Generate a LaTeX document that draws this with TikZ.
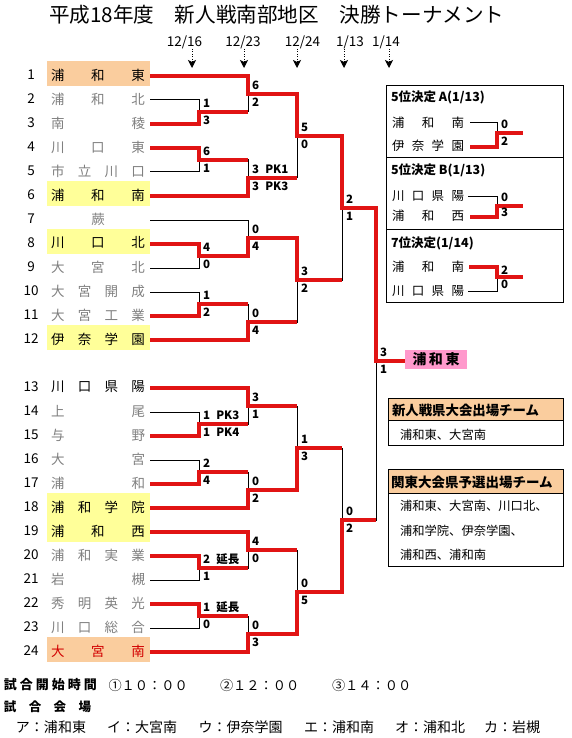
\documentclass[tikz,border=0pt]{standalone}
\usepackage{fontspec}
\setmainfont{Noto Sans CJK JP}
\usetikzlibrary{arrows.meta}
\definecolor{peach}{RGB}{250,205,158}
\definecolor{lyellow}{RGB}{255,255,153}
\definecolor{lpink}{RGB}{255,153,204}
\definecolor{tgray}{RGB}{128,128,128}
\definecolor{wred}{RGB}{225,20,20}
\definecolor{dred}{RGB}{210,0,0}
\newcommand{\fs}[1]{\fontsize{#1}{#1}\selectfont}
\newcommand{\spr}[2]{\hbox to #1pt{#2}}
\begin{document}
\begin{tikzpicture}[x=1pt,y=-1pt,
  every node/.style={inner sep=0pt,outer sep=0pt},
  num/.style={font=\fs{13.5}},
  tn/.style={font=\fs{13.5}},
  tgr/.style={tn,text=tgray},
  sc/.style={anchor=west,font=\bfseries\fs{11.5}},
  blk/.style={draw=black,line width=1pt},
  win/.style={draw=wred,line width=3.3pt},
  datel/.style={font=\fs{13.5}},
  darr/.style={draw=black,line width=1pt,dash pattern=on 1pt off 1.5pt,-{Stealth[length=8pt,width=8pt,inset=2pt]}},
  sbox/.style={draw=black,line width=0.8pt},
  btitle/.style={anchor=west,font=\bfseries\fs{12.5}},
  bname/.style={font=\fs{12.5}},
  btext/.style={anchor=west,font=\fs{12.3}},
  foot/.style={anchor=west,font=\fs{13.2}},
]
\useasboundingbox (0,0) rectangle (571,738);
\fill[white] (0,0) rectangle (571,738);

% title
\node[font=\fs{20.6},anchor=west] (title) at (49,15) {平成18年度　新人戦南部地区　決勝トーナメント};

% dates and arrows
\node[datel] (d1) at (184.5,42.5) {12/16};
\node[datel] (d2) at (243,42.5) {12/23};
\node[datel] (d3) at (302.5,42.5) {12/24};
\node[datel] (d4) at (350,42.5) {1/13};
\node[datel] (d5) at (386,42.5) {1/14};
\foreach \i/\x in {1/192,2/244,3/297,4/344,5/389} {
  \coordinate (u\i) at (\x,49);
  \coordinate (v\i) at (\x,68);
  \draw[darr] (u\i) -- (v\i);
}

% highlight boxes
\fill[peach] (47,61) rectangle (150,86);
\fill[lyellow] (47,181) rectangle (150,206);
\fill[lyellow] (47,229) rectangle (150,254);
\fill[lyellow] (47,325) rectangle (150,350);
\fill[lyellow] (47,493) rectangle (150,518);
\fill[lyellow] (47,517) rectangle (150,542);
\fill[peach] (47,637) rectangle (150,662);

% row numbers
\foreach \i/\y in {1/75,2/99,3/123,4/147,5/171,6/195,7/219,8/243,9/267,10/291,11/315,12/339,
  13/387,14/411,15/435,16/459,17/483,18/507,19/531,20/555,21/579,22/603,23/627,24/651}
  \node[num] (k\i) at (31,\y) {\i};

% team names
\node[tn]  (n1)  at (98,75)  {\spr{94}{浦\hfill 和\hfill 東}};
\node[tgr] (n2)  at (98,99)  {\spr{94}{浦\hfill 和\hfill 北}};
\node[tgr] (n3)  at (98,123) {\spr{94}{南\hfill 稜}};
\node[tgr] (n4)  at (98,147) {\spr{94}{川\hfill 口\hfill 東}};
\node[tgr] (n5)  at (98,171) {\spr{94}{市\hfill 立\hfill 川\hfill 口}};
\node[tn]  (n6)  at (98,195) {\spr{94}{浦\hfill 和\hfill 南}};
\node[tgr] (n7)  at (98,219) {\spr{94}{\hfill 蕨\hfill}};
\node[tn]  (n8)  at (98,243) {\spr{94}{川\hfill 口\hfill 北}};
\node[tgr] (n9)  at (98,267) {\spr{94}{大\hfill 宮\hfill 北}};
\node[tgr] (n10) at (98,291) {\spr{94}{大\hfill 宮\hfill 開\hfill 成}};
\node[tgr] (n11) at (98,315) {\spr{94}{大\hfill 宮\hfill 工\hfill 業}};
\node[tn]  (n12) at (98,339) {\spr{94}{伊\hfill 奈\hfill 学\hfill 園}};
\node[tn]  (n13) at (98,387) {\spr{94}{川\hfill 口\hfill 県\hfill 陽}};
\node[tgr] (n14) at (98,411) {\spr{94}{上\hfill 尾}};
\node[tgr] (n15) at (98,435) {\spr{94}{与\hfill 野}};
\node[tgr] (n16) at (98,459) {\spr{94}{大\hfill 宮}};
\node[tgr] (n17) at (98,483) {\spr{94}{浦\hfill 和}};
\node[tn]  (n18) at (98,507) {\spr{94}{浦\hfill 和\hfill 学\hfill 院}};
\node[tn]  (n19) at (98,531) {\spr{94}{浦\hfill 和\hfill 西}};
\node[tgr] (n20) at (98,555) {\spr{94}{浦\hfill 和\hfill 実\hfill 業}};
\node[tgr] (n21) at (98,579) {\spr{94}{岩\hfill 槻}};
\node[tgr] (n22) at (98,603) {\spr{94}{秀\hfill 明\hfill 英\hfill 光}};
\node[tgr] (n23) at (98,627) {\spr{94}{川\hfill 口\hfill 総\hfill 合}};
\node[tn,text=dred] (n24) at (98,651) {\spr{94}{大\hfill 宮\hfill 南}};

% team line starts
\foreach \i/\y in {1/76,2/100,3/124,4/148,5/172,6/196,7/220,8/244,9/268,10/292,11/316,12/340,
  13/388,14/412,15/436,16/460,17/484,18/508,19/532,20/556,21/580,22/604,23/628,24/652}
  \coordinate (t\i) at (150,\y);

% match points
\coordinate (mA) at (199,112);
\coordinate (mB) at (199,160);
\coordinate (mC) at (248,94);
\coordinate (mD) at (248,178);
\coordinate (mE) at (297,136);
\coordinate (mF) at (199,256);
\coordinate (mG) at (248,238);
\coordinate (mH) at (199,304);
\coordinate (mI) at (248,322);
\coordinate (mJ) at (297,280);
\coordinate (mK) at (342,208);
\coordinate (mL) at (199,424);
\coordinate (mM) at (248,406);
\coordinate (mN) at (199,472);
\coordinate (mO) at (248,490);
\coordinate (mP) at (297,448);
\coordinate (mQ) at (199,568);
\coordinate (mR) at (248,550);
\coordinate (mS) at (199,616);
\coordinate (mT) at (248,634);
\coordinate (mU) at (297,592);
\coordinate (mV) at (342,520);
\coordinate (mW) at (376,361);

% champion box
\fill[lpink] (405,350) rectangle (467,369);
\node[font=\bfseries\fs{14}] (champ) at (436,359.5) {\spr{47}{浦\hfill 和\hfill 東}};
\coordinate (cw) at (405,361);

% losing (black) lines
\draw[blk] (t2) -| (mA);
\draw[blk] (t5) -| (mB);
\draw[blk] (mA) -| (mC);
\draw[blk] (mB) -| (mD);
\draw[blk] (mD) -| (mE);
\draw[blk] (t9) -| (mF);
\draw[blk] (t7) -| (mG);
\draw[blk] (t10) -| (mH);
\draw[blk] (mH) -| (mI);
\draw[blk] (mI) -| (mJ);
\draw[blk] (mJ) -| (mK);
\draw[blk] (t14) -| (mL);
\draw[blk] (mL) -| (mM);
\draw[blk] (t16) -| (mN);
\draw[blk] (mN) -| (mO);
\draw[blk] (mM) -| (mP);
\draw[blk] (t21) -| (mQ);
\draw[blk] (mQ) -| (mR);
\draw[blk] (t23) -| (mS);
\draw[blk] (mS) -| (mT);
\draw[blk] (mR) -| (mU);
\draw[blk] (mP) -| (mV);
\draw[blk] (mV) -| (mW);

% winning (red) lines
\draw[win] (t1) -| (mC) -| (mE) -| (mK) -| (mW) -- (cw);
\draw[win] (t3) -| (mA) -- (mA -| mC);
\draw[win] (t4) -| (mB) -- (mB -| mD);
\draw[win] (t6) -| (mD) -- (mD -| mE);
\draw[win] (t8) -| (mF) -| (mG) -| (mJ) -- (mJ -| mK);
\draw[win] (t11) -| (mH) -- (mH -| mI);
\draw[win] (t12) -| (mI) -- (mI -| mJ);
\draw[win] (t13) -| (mM) -- (mM -| mP);
\draw[win] (t15) -| (mL) -- (mL -| mM);
\draw[win] (t17) -| (mN) -- (mN -| mO);
\draw[win] (t18) -| (mO) -| (mP) -- (mP -| mV);
\draw[win] (t19) -| (mR) -- (mR -| mU);
\draw[win] (t20) -| (mQ) -- (mQ -| mR);
\draw[win] (t22) -| (mS) -- (mS -| mT);
\draw[win] (t24) -| (mT) -| (mU) -| (mV) -- (mV -| mW);

% scores
\node[sc] (sA1) at (203,103.5) {1};  \node[sc] (sA2) at (203,120) {3};
\node[sc] (sB1) at (203,151.5) {6};  \node[sc] (sB2) at (203,168) {1};
\node[sc] (sC1) at (252,85.5) {6};   \node[sc] (sC2) at (252,102) {2};
\node[sc] (sD1) at (252,169.5) {3\hspace{0.55em}PK1}; \node[sc] (sD2) at (252,186) {3\hspace{0.55em}PK3};
\node[sc] (sE1) at (301,127.5) {5};  \node[sc] (sE2) at (301,144) {0};
\node[sc] (sF1) at (203,247.5) {4};  \node[sc] (sF2) at (203,264) {0};
\node[sc] (sG1) at (252,229.5) {0};  \node[sc] (sG2) at (252,246) {4};
\node[sc] (sH1) at (203,295.5) {1};  \node[sc] (sH2) at (203,312) {2};
\node[sc] (sI1) at (252,313.5) {0};  \node[sc] (sI2) at (252,330) {4};
\node[sc] (sJ1) at (301,271.5) {3};  \node[sc] (sJ2) at (301,288) {2};
\node[sc] (sK1) at (346,199.5) {2};  \node[sc] (sK2) at (346,216) {1};
\node[sc] (sL1) at (203,415.5) {1\hspace{0.55em}PK3}; \node[sc] (sL2) at (203,432) {1\hspace{0.55em}PK4};
\node[sc] (sM1) at (252,397.5) {3};  \node[sc] (sM2) at (252,414) {1};
\node[sc] (sN1) at (203,463.5) {2};  \node[sc] (sN2) at (203,480) {4};
\node[sc] (sO1) at (252,481.5) {0};  \node[sc] (sO2) at (252,498) {2};
\node[sc] (sP1) at (301,439.5) {1};  \node[sc] (sP2) at (301,456) {3};
\node[sc] (sQ1) at (203,559.5) {2\hspace{0.55em}延長}; \node[sc] (sQ2) at (203,576) {1};
\node[sc] (sR1) at (252,541.5) {4};  \node[sc] (sR2) at (252,558) {0};
\node[sc] (sS1) at (203,607.5) {1\hspace{0.55em}延長}; \node[sc] (sS2) at (203,624) {0};
\node[sc] (sT1) at (252,625.5) {0};  \node[sc] (sT2) at (252,642) {3};
\node[sc] (sU1) at (301,583.5) {0};  \node[sc] (sU2) at (301,600) {5};
\node[sc] (sV1) at (346,511.5) {0};  \node[sc] (sV2) at (346,528) {2};
\node[sc] (sW1) at (380,352.5) {3};  \node[sc] (sW2) at (380,369) {1};

% placement box
\draw[sbox] (386,85) rectangle (563,302);
\draw[sbox] (386,157) -- (563,157);
\draw[sbox] (386,229) -- (563,229);
\node[btitle] (h1) at (391,97) {5位決定 A(1/13)};
\node[btitle] (h2) at (391,170) {5位決定 B(1/13)};
\node[btitle] (h3) at (391,243) {7位決定(1/14)};
\node[bname] (xa1) at (428,123) {\spr{72}{浦\hfill 和\hfill 南}};
\node[bname] (xa2) at (428,146) {\spr{72}{伊\hfill 奈\hfill 学\hfill 園}};
\node[bname] (xb1) at (428,196) {\spr{72}{川\hfill 口\hfill 県\hfill 陽}};
\node[bname] (xb2) at (428,216) {\spr{72}{浦\hfill 和\hfill 西}};
\node[bname] (xc1) at (428,267) {\spr{72}{浦\hfill 和\hfill 南}};
\node[bname] (xc2) at (428,291) {\spr{72}{川\hfill 口\hfill 県\hfill 陽}};
\coordinate (pa1) at (470,123); \coordinate (pa2) at (470,147);
\coordinate (ma) at (497,133);  \coordinate (oa) at (523,133);
\coordinate (pb1) at (468,196); \coordinate (pb2) at (470,217);
\coordinate (mb) at (497,206);  \coordinate (ob) at (523,206);
\coordinate (pc1) at (469,267); \coordinate (pc2) at (468,291);
\coordinate (mc) at (497,277);  \coordinate (oc) at (523,277);
\draw[blk] (pa1) -| (ma);
\draw[blk] (pb1) -| (mb);
\draw[blk] (pc2) -| (mc);
\draw[win] (pa2) -| (ma) -- (oa);
\draw[win] (pb2) -| (mb) -- (ob);
\draw[win] (pc1) -| (mc) -- (oc);
\node[sc] (ya1) at (501,124) {0}; \node[sc] (ya2) at (501,141) {2};
\node[sc] (yb1) at (501,197) {0}; \node[sc] (yb2) at (501,212) {3};
\node[sc] (yc1) at (501,270) {2}; \node[sc] (yc2) at (501,284) {0};

% qualification boxes
\fill[peach] (388,398) rectangle (563,420);
\draw[sbox] (388,398) rectangle (563,445);
\draw[sbox] (388,420) -- (563,420);
\node[anchor=west,font=\bfseries\fs{13.4}] (q1) at (392,410) {新人戦県大会出場チーム};
\node[btext] (q1a) at (400,435) {浦和東、大宮南};

\fill[peach] (388,469) rectangle (563,493);
\draw[sbox] (388,469) rectangle (563,566);
\draw[sbox] (388,493) -- (563,493);
\node[anchor=west,font=\bfseries\fs{13.5}] (q2) at (391,482) {関東大会県予選出場チーム};
\node[btext] (q2a) at (400,506) {浦和東、大宮南、川口北、};
\node[btext] (q2b) at (400,531) {浦和学院、伊奈学園、};
\node[btext] (q2c) at (400,555) {浦和西、浦和南};

% footer
\node[anchor=west,font=\bfseries\fs{13}] (f1) at (4,685) {\spr{93}{試\hfill 合\hfill 開\hfill 始\hfill 時\hfill 間}};
\node[foot] (f2) at (108.5,685) {①１０：００};
\node[foot] (f3) at (220,685) {②１２：００};
\node[foot] (f4) at (332,685) {③１４：００};
\node[anchor=west,font=\bfseries\fs{12.5}] (f5) at (4,707) {\spr{87}{試\hfill 合\hfill 会\hfill 場}};
\node[foot,font=\fs{14}] (g1) at (16,727) {ア：浦和東};
\node[foot,font=\fs{14}] (g2) at (107,727) {イ：大宮南};
\node[foot,font=\fs{14}] (g3) at (198.5,727) {ウ：伊奈学園};
\node[foot,font=\fs{14}] (g4) at (304,727) {エ：浦和南};
\node[foot,font=\fs{14}] (g5) at (395,727) {オ：浦和北};
\node[foot,font=\fs{14}] (g6) at (484,727) {カ：岩槻};
\end{tikzpicture}
\end{document}
